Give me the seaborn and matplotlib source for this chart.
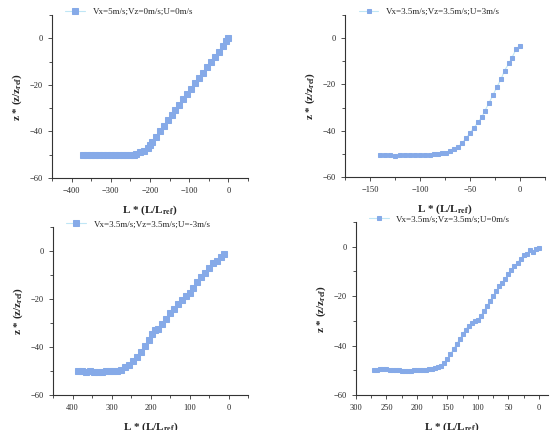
import numpy as np
import pandas as pd
import matplotlib
matplotlib.use("Agg")
import matplotlib.pyplot as plt
import seaborn as sns
from matplotlib.ticker import MultipleLocator

# data
tl_x = [-370, -360, -350, -340, -330, -320, -310, -300, -290, -280, -270, -260, -250, -240,
        -235, -225, -215, -205, -200, -195, -185, -175, -165, -155, -145, -135, -125, -115,
        -105, -95, -85, -75, -65, -55, -45, -35, -25, -15, -5, 0]
tl_y = [-50.1, -50.0, -50.2, -50.1, -50.0, -50.2, -50.1, -50.2, -50.0, -50.1, -50.2, -50.1, -50.0, -50.1,
        -49.8, -49.0, -48.5, -47.0, -46.0, -44.5, -42.2, -39.9, -37.6, -35.3, -33.1, -30.8, -28.5, -26.2,
        -23.9, -21.7, -19.4, -17.1, -14.8, -12.5, -10.3, -8.0, -5.7, -3.4, -1.1, 0.0]

tr_x = [-140, -135, -130, -125, -120, -115, -110, -105, -100, -95, -90, -86, -82, -78,
        -74, -70, -66, -62, -58, -54, -50, -46, -42, -38, -35, -31, -27, -23, -19, -15.5, -11, -8, -4, 0]
tr_y = [-50.7, -50.6, -50.6, -50.8, -50.6, -50.6, -50.6, -50.7, -50.5, -50.4, -50.3, -50.0, -49.9, -49.8,
        -49.6, -48.6, -47.8, -47.1, -45.4, -43.3, -41.0, -38.7, -36.4, -34.0, -31.3, -28.0, -24.6, -21.0,
        -17.8, -14.0, -10.9, -8.4, -4.8, -3.2]

bl_x = [385, 375, 365, 355, 345, 335, 325, 315, 305, 295, 285, 275, 265, 255, 245, 235, 225, 215,
        205, 195, 188, 180, 170, 160, 150, 140, 130, 120, 110, 100, 90, 80, 70, 60, 50, 40, 30, 20, 12, 12]
bl_y = [-50.0, -50.2, -50.3, -50.2, -50.3, -50.3, -50.4, -50.1, -50.0, -49.9, -49.8, -49.5, -48.3, -47.3,
        -46.0, -44.3, -42.0, -39.5, -37.0, -34.5, -33.0, -32.5, -30.5, -28.3, -26.0, -24.0, -22.0, -20.5,
        -18.8, -17.5, -15.5, -13.0, -11.0, -9.0, -7.0, -5.0, -4.0, -2.5, -1.5, -0.8]

br_x = [270, 265, 260, 255, 250, 245, 240, 235, 230, 225, 220, 215, 210, 205, 200, 195, 190, 185, 180,
        175, 170, 165, 160, 155, 150, 145, 140, 135, 130, 125, 120, 115, 110, 105, 100, 95, 90, 85, 80,
        75, 70, 65, 60, 55, 50, 45, 40, 35, 30, 25, 20, 15, 10, 5, 0]
br_y = [-50.0, -49.8, -49.6, -49.6, -49.6, -49.8, -49.9, -50.0, -50.0, -50.2, -50.3, -50.2, -50.3, -50.0,
        -49.9, -49.9, -49.9, -49.7, -49.6, -49.4, -49.2, -48.8, -48.3, -47.0, -45.5, -43.5, -41.5, -39.5,
        -37.5, -35.5, -33.5, -32.0, -31.0, -30.2, -29.5, -28.0, -26.0, -24.0, -22.0, -20.0, -18.0, -16.0,
        -14.5, -13.0, -11.0, -9.5, -8.0, -6.5, -5.0, -3.5, -3.0, -1.5, -2.0, -1.0, -0.5]

labels = ["Vx=5m/s;Vz=0m/s;U=0m/s",
          "Vx=3.5m/s;Vz=3.5m/s;U=3m/s",
          "Vx=3.5m/s;Vz=3.5m/s;U=-3m/s",
          "Vx=3.5m/s;Vz=3.5m/s;U=0m/s"]

sns.set_style("white")
plt.rcParams['font.family'] = ['Liberation Serif', 'DejaVu Serif']
plt.rcParams['mathtext.fontset'] = 'stix'

fig = plt.figure(figsize=(5.5, 4.3), dpi=100)
W, H = 550, 430
# axes boxes in pixels: left, top, right, bottom
boxes = [(52, 15, 248, 178), (345, 15, 545, 177), (53, 227, 248, 395), (356, 222, 548, 395)]
xlims = [(-450, 50), (-175, 25), (450, -50), (300, -15)]
xmaj = [100, 50, 100, 50]
xmin = [50, 25, 50, 25]
msizes = [4.2, 3.4, 4.2, 3.4]
series = [(tl_x, tl_y), (tr_x, tr_y), (bl_x, bl_y), (br_x, br_y)]

for (l, t, r, b), xl, mj, mn, ms, (xs, ys), lab in zip(boxes, xlims, xmaj, xmin, msizes, series, labels):
    ax = fig.add_axes([l / W, 1 - b / H, (r - l) / W, (b - t) / H])
    df = pd.DataFrame({"x": xs, "y": ys})
    sns.lineplot(data=df, x="x", y="y", ax=ax, sort=False, color="#bfe6f5", lw=0.8,
                 marker="s", markersize=ms, markerfacecolor="#86aae8",
                 markeredgecolor="#86aae8", label=lab)
    ax.set_xlim(*xl)
    ax.set_ylim(-60, 10)
    ax.xaxis.set_major_locator(MultipleLocator(mj))
    ax.xaxis.set_minor_locator(MultipleLocator(mn))
    ax.yaxis.set_minor_locator(MultipleLocator(10))
    ax.set_yticks([-60, -40, -20, 0])
    ax.tick_params(which='both', direction='out', length=3, width=0.6, labelsize=6,
                   left=True, bottom=True, color='#333333')
    ax.tick_params(which='minor', length=2)
    for s in ['top', 'right']:
        ax.spines[s].set_visible(False)
    for s in ['left', 'bottom']:
        ax.spines[s].set_linewidth(0.8)
        ax.spines[s].set_color('#333333')
    ax.set_xlabel(r"L * (L/L$_{\mathbf{ref}}$)", fontsize=8, fontweight='bold', labelpad=6)
    ax.set_ylabel(r"z * (z/z$_{\mathbf{ref}}$)", fontsize=8, fontweight='bold')
    ax.legend(loc='lower left', bbox_to_anchor=(0.05, 0.97), frameon=False, fontsize=6.5,
              handlelength=2.2, borderaxespad=0)

fig.savefig("out.png", dpi=100)
